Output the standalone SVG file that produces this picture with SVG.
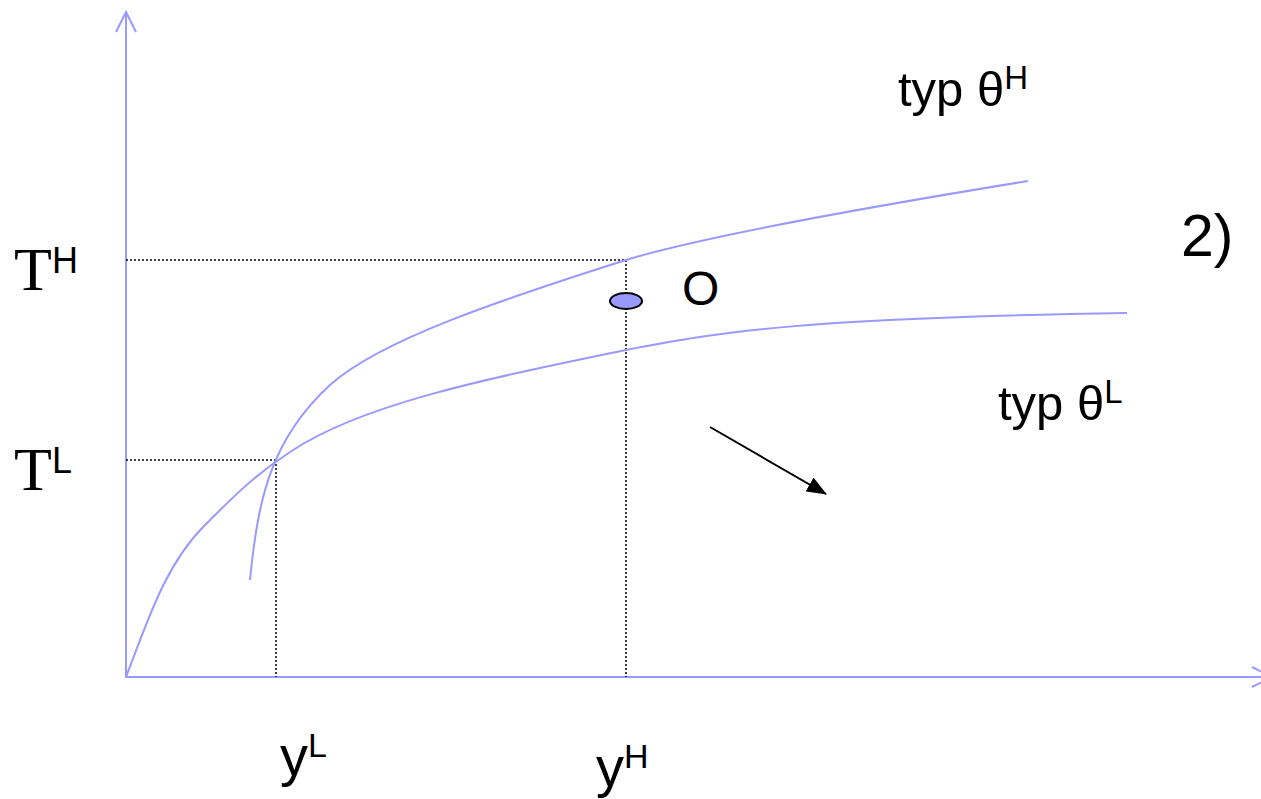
<svg xmlns="http://www.w3.org/2000/svg" width="1261" height="799" viewBox="0 0 1261 799">
<style>
.axis{stroke:#9999ff;stroke-width:2;fill:none}
.curve{stroke:#9999ff;stroke-width:2;fill:none}
.dot{stroke:#000;stroke-width:1.5;stroke-dasharray:2 2;fill:none}
.lbl{font-family:"Liberation Sans",Arial,sans-serif;fill:#000}
.ser{font-family:"Liberation Serif","Times New Roman",serif;fill:#000}
</style>
<defs>
<marker id="ah" markerWidth="20" markerHeight="16" refX="19" refY="8" orient="auto" markerUnits="userSpaceOnUse" viewBox="0 0 20 16">
<path d="M0,0 L20,8 L0,16 Z" fill="#000"/>
</marker>
</defs>
<rect width="1261" height="799" fill="#fff"/>
<g id="axes">
<line class="axis" x1="126" y1="678" x2="126" y2="12"/>
<polyline class="axis" points="116,32 126,12 136,32"/>
<line class="axis" x1="126" y1="677" x2="1270" y2="677"/>
<polyline class="axis" points="1252,667 1272,677 1252,687"/>
</g>
<g id="guides">
<line class="dot" x1="126" y1="260" x2="626" y2="260"/>
<line class="dot" x1="626" y1="260" x2="626" y2="677"/>
<line class="dot" x1="126" y1="460" x2="276" y2="460"/>
<line class="dot" x1="276" y1="460" x2="276" y2="677"/>
</g>
<g id="connectors">
<path id="curve-H" class="curve" d="M250,580 C258,500 270,440 330,385 C380,340 500,300 626,260 C700,237 850,210 1028,181"/>
<path id="curve-L" class="curve" d="M126,677 C148,620 165,565 205,525 C235,495 255,475 290,452 C360,405 480,380 626,350 C720,332 800,318 1127,313"/>
<line id="arrow" x1="710" y1="427" x2="826" y2="494" stroke="#000" stroke-width="2" marker-end="url(#ah)"/>
</g>
<g id="node-O">
<ellipse cx="626" cy="301" rx="16" ry="8" fill="#9999ff" stroke="#000" stroke-width="2"/>
<text class="lbl" x="682" y="305" font-size="48">O</text>
</g>
<g id="label-typH"><text class="lbl" x="898" y="106" font-size="49">typ θ<tspan font-size="33" dy="-17">H</tspan></text></g>
<g id="label-typL"><text class="lbl" x="998" y="420" font-size="49">typ θ<tspan font-size="33" dy="-17">L</tspan></text></g>
<g id="label-2"><text class="lbl" x="1181" y="256" font-size="59">2)</text></g>
<g id="label-TH"><text class="ser" x="14" y="290" font-size="62">T<tspan class="lbl" font-size="36" dy="-17">H</tspan></text></g>
<g id="label-TL"><text class="ser" x="14" y="490" font-size="62">T<tspan class="lbl" font-size="36" dy="-17">L</tspan></text></g>
<g id="label-yL"><text class="lbl" x="280" y="775" font-size="56">y<tspan font-size="34" dy="-18">L</tspan></text></g>
<g id="label-yH"><text class="lbl" x="596" y="786" font-size="56">y<tspan font-size="34" dy="-18">H</tspan></text></g>
</svg>
